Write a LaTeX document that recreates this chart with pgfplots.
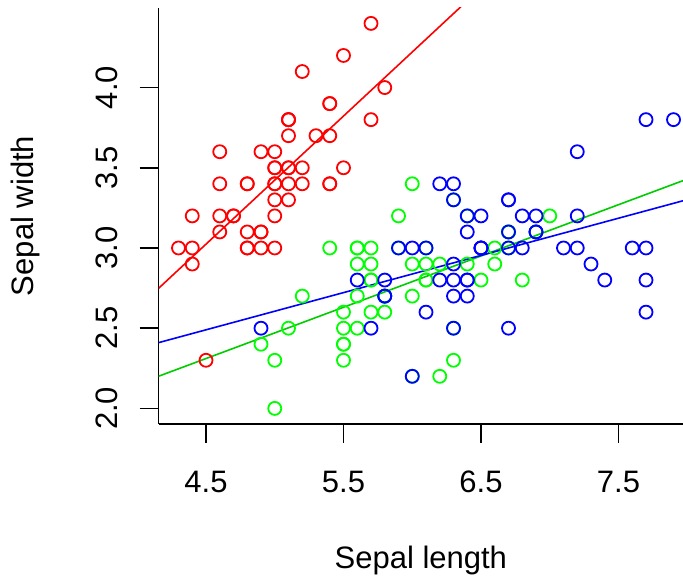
\documentclass[border=0pt]{standalone}
\usepackage{pgfplots}
\pgfplotsset{compat=1.18}
\usepackage{fontspec}
\setmainfont{Liberation Sans}
\definecolor{rred}{RGB}{255,0,0}
\definecolor{rgreen}{RGB}{0,255,0}
\definecolor{rgreenl}{RGB}{0,205,0}
\definecolor{rblue}{RGB}{0,0,255}
\begin{document}
\begin{tikzpicture}
\useasboundingbox (-158.7pt,-156.2pt) rectangle (524.3pt,423.8pt);
\begin{axis}[
  at={(0,0)}, anchor=south west,
  scale only axis, width=524.3pt, height=415.8pt,
  xmin=4.156, xmax=7.969, ymin=1.904, ymax=4.496,
  axis x line=bottom, axis y line=left,
  axis line style={-, line width=1.6pt, black},
  every tick/.style={black, line width=1.6pt},
  tick align=outside, major tick length=19pt,
  xtick={4.5,5.5,6.5,7.5}, ytick={2.0,2.5,3.0,3.5,4.0},
  minor xtick={}, minor ytick={},
  /pgf/number format/assume math mode=true,
  /pgf/number format/fixed, /pgf/number format/fixed zerofill,
  /pgf/number format/precision=1,
  ticklabel style={font=\fontsize{31pt}{37pt}\selectfont, inner sep=0pt},
  xticklabel style={anchor=north},
  yticklabel style={rotate=90, anchor=south},
  xticklabel shift=28pt, yticklabel shift=22pt,
  xlabel={Sepal length}, ylabel={Sepal width},
  label style={font=\fontsize{31pt}{37pt}\selectfont, inner sep=0pt},
  xlabel style={at={(axis description cs:0.5,-0.3468)}, anchor=base},
  ylabel style={at={(axis description cs:-0.2397,0.5)}, anchor=base},
  clip=true,
]
\addplot[only marks, mark=o, mark size=6.5pt, rred, mark options={line width=1.8pt}] table {
x y
5.1 3.5
4.9 3.0
4.7 3.2
4.6 3.1
5.0 3.6
5.4 3.9
4.6 3.4
5.0 3.4
4.4 2.9
4.9 3.1
5.4 3.7
4.8 3.4
4.8 3.0
4.3 3.0
5.8 4.0
5.7 4.4
5.4 3.9
5.1 3.5
5.7 3.8
5.1 3.8
5.4 3.4
5.1 3.7
4.6 3.6
5.1 3.3
4.8 3.4
5.0 3.0
5.0 3.4
5.2 3.5
5.2 3.4
4.7 3.2
4.8 3.1
5.4 3.4
5.2 4.1
5.5 4.2
4.9 3.1
5.0 3.2
5.5 3.5
4.9 3.6
4.4 3.0
5.1 3.4
5.0 3.5
4.5 2.3
4.4 3.2
5.0 3.5
5.1 3.8
4.8 3.0
5.1 3.8
4.6 3.2
5.3 3.7
5.0 3.3
};
\addplot[only marks, mark=o, mark size=6.5pt, rgreen, mark options={line width=1.8pt}] table {
x y
7.0 3.2
6.4 3.2
6.9 3.1
5.5 2.3
6.5 2.8
5.7 2.8
6.3 3.3
4.9 2.4
6.6 2.9
5.2 2.7
5.0 2.0
5.9 3.0
6.0 2.2
6.1 2.9
5.6 2.9
6.7 3.1
5.6 3.0
5.8 2.7
6.2 2.2
5.6 2.5
5.9 3.2
6.1 2.8
6.3 2.5
6.1 2.8
6.4 2.9
6.6 3.0
6.8 2.8
6.7 3.0
6.0 2.9
5.7 2.6
5.5 2.4
5.5 2.4
5.8 2.7
6.0 2.7
5.4 3.0
6.0 3.4
6.7 3.1
6.3 2.3
5.6 3.0
5.5 2.5
5.5 2.6
6.1 3.0
5.8 2.6
5.0 2.3
5.6 2.7
5.7 3.0
5.7 2.9
6.2 2.9
5.1 2.5
5.7 2.8
};
\addplot[only marks, mark=o, mark size=6.5pt, rblue, mark options={line width=1.8pt}] table {
x y
6.3 3.3
5.8 2.7
7.1 3.0
6.3 2.9
6.5 3.0
7.6 3.0
4.9 2.5
7.3 2.9
6.7 2.5
7.2 3.6
6.5 3.2
6.4 2.7
6.8 3.0
5.7 2.5
5.8 2.8
6.4 3.2
6.5 3.0
7.7 3.8
7.7 2.6
6.0 2.2
6.9 3.2
5.6 2.8
7.7 2.8
6.3 2.7
6.7 3.3
7.2 3.2
6.2 2.8
6.1 3.0
6.4 2.8
7.2 3.0
7.4 2.8
7.9 3.8
6.4 2.8
6.3 2.8
6.1 2.6
7.7 3.0
6.3 3.4
6.4 3.1
6.0 3.0
6.9 3.1
6.7 3.1
6.9 3.1
5.8 2.7
6.8 3.2
6.7 3.3
6.7 3.0
6.3 2.5
6.5 3.0
6.2 3.4
5.9 3.0
};
\addplot[rred, line width=1.6pt, no marks] coordinates {(4.0,2.6246) (8.2,5.9783)};
\addplot[rgreenl, line width=1.6pt, no marks] coordinates {(4.0,2.1509) (8.2,3.4936)};
\addplot[rblue, line width=1.6pt, no marks] coordinates {(4.0,2.3739) (8.2,3.3479)};
\end{axis}
\end{tikzpicture}
\end{document}
